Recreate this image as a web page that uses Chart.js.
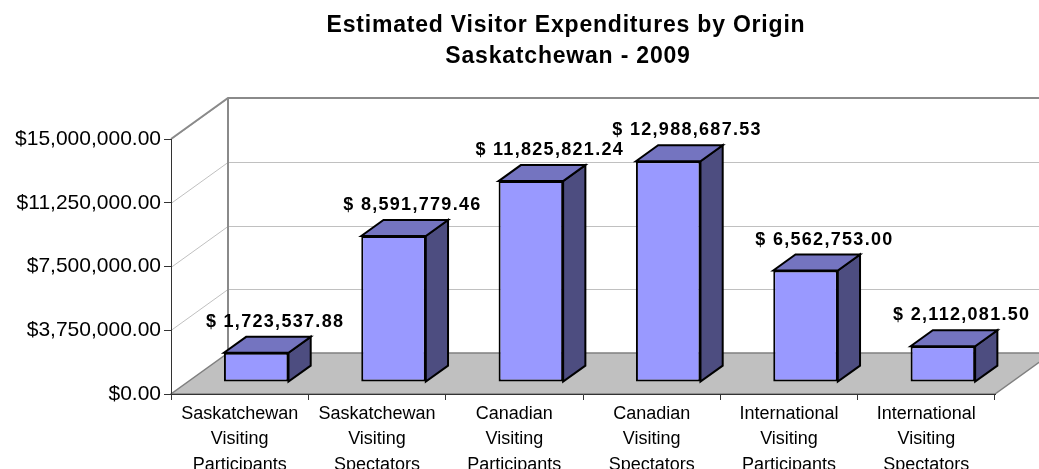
<!DOCTYPE html>
<html lang="en">
<head>
    <meta charset="UTF-8">
    <title>Estimated Visitor Expenditures by Origin</title>
    <script src="https://cdn.jsdelivr.net/npm/chart.js"></script>
    <style>
        body { margin: 0; background: #fff; }
    </style>
</head>
<body>
    <canvas id="gastosChart" width="1039" height="469"></canvas>

    <script>
        const titleLines = ['Estimated Visitor Expenditures by Origin', 'Saskatchewan - 2009'];
        const categories = [
            ['Saskatchewan', 'Visiting', 'Participants'],
            ['Saskatchewan', 'Visiting', 'Spectators'],
            ['Canadian', 'Visiting', 'Participants'],
            ['Canadian', 'Visiting', 'Spectators'],
            ['International', 'Visiting', 'Participants'],
            ['International', 'Visiting', 'Spectators']
        ];
        const expenditures = [1723537.88, 8591779.46, 11825821.24, 12988687.53, 6562753.00, 2112081.50];
        const yTicks = [0, 3750000, 7500000, 11250000, 15000000];

        const FONT = "'Liberation Sans', Arial, sans-serif";
        Chart.defaults.font.family = FONT;

        // depth of the fake 3D box (like Excel 2003 3D columns)
        const wall = { dx: 57, dy: -41 };
        const barFront = 0.29;   // where the front face of the bars sits in the depth
        const barDepth = 0.39;   // how deep each column is

        function money(v) {
            return v.toFixed(2).replace(/\B(?=(\d{3})+(?!\d))/g, ',');
        }

        const excel3d = {
            id: 'excel3d',
            beforeDraw(chart) {
                const { ctx, chartArea: a, scales: { y } } = chart;
                ctx.save();
                // gridlines on side wall and back wall
                ctx.strokeStyle = '#c0c0c0';
                ctx.lineWidth = 1;
                yTicks.forEach(v => {
                    const py = Math.round(y.getPixelForValue(v)) + 0.5;
                    ctx.beginPath();
                    ctx.moveTo(a.left, py);
                    ctx.lineTo(a.left + wall.dx, py + wall.dy);
                    ctx.lineTo(a.right + wall.dx, py + wall.dy);
                    ctx.stroke();
                });
                // floor
                ctx.beginPath();
                ctx.moveTo(a.left, a.bottom);
                ctx.lineTo(a.right, a.bottom);
                ctx.lineTo(a.right + wall.dx, a.bottom + wall.dy);
                ctx.lineTo(a.left + wall.dx, a.bottom + wall.dy);
                ctx.closePath();
                ctx.fillStyle = '#c0c0c0';
                ctx.fill();
                ctx.strokeStyle = '#808080';
                ctx.lineWidth = 1.5;
                ctx.stroke();
                // wall outline
                ctx.beginPath();
                ctx.moveTo(a.left, a.top);
                ctx.lineTo(a.left + wall.dx, a.top + wall.dy);
                ctx.lineTo(a.right + wall.dx, a.top + wall.dy);
                ctx.moveTo(a.left + wall.dx, a.top + wall.dy);
                ctx.lineTo(a.left + wall.dx, a.bottom + wall.dy);
                ctx.strokeStyle = '#8a8a8a';
                ctx.lineWidth = 2;
                ctx.stroke();
                ctx.restore();
            },
            beforeDatasetsDraw(chart) {
                chart.ctx.save();
                chart.ctx.translate(wall.dx * barFront, wall.dy * barFront);
            },
            afterDatasetsDraw(chart) {
                const ctx = chart.ctx;
                ctx.restore();
                const ox = wall.dx * barFront, oy = wall.dy * barFront;
                const bx = wall.dx * barDepth, by = wall.dy * barDepth;
                const meta = chart.getDatasetMeta(0);
                ctx.save();
                ctx.lineWidth = 2;
                ctx.lineJoin = 'miter';
                ctx.strokeStyle = '#000';
                meta.data.forEach((bar, i) => {
                    const p = bar.getProps(['x', 'y', 'base', 'width'], true);
                    const x1 = p.x - p.width / 2 + ox, x2 = p.x + p.width / 2 + ox;
                    const top = p.y + oy, bottom = p.base + oy;
                    // side face
                    ctx.beginPath();
                    ctx.moveTo(x2, top);
                    ctx.lineTo(x2 + bx, top + by);
                    ctx.lineTo(x2 + bx, bottom + by);
                    ctx.lineTo(x2, bottom);
                    ctx.closePath();
                    ctx.fillStyle = '#4d4d80';
                    ctx.fill();
                    ctx.stroke();
                    // top face
                    ctx.beginPath();
                    ctx.moveTo(x1, top);
                    ctx.lineTo(x1 + bx, top + by);
                    ctx.lineTo(x2 + bx, top + by);
                    ctx.lineTo(x2, top);
                    ctx.closePath();
                    ctx.fillStyle = '#7474c0';
                    ctx.fill();
                    ctx.stroke();
                    // value label
                    ctx.fillStyle = '#000';
                    ctx.font = 'bold 18px ' + FONT;
                    ctx.letterSpacing = '1.3px';
                    ctx.textAlign = 'center';
                    ctx.textBaseline = 'middle';
                    ctx.fillText('$ ' + money(expenditures[i]), p.x + ox + bx * 0.85, top + by - 15);
                    ctx.letterSpacing = '0px';
                });
                ctx.restore();
            },
            afterDraw(chart) {
                const ctx = chart.ctx;
                ctx.save();
                ctx.fillStyle = '#000';
                ctx.font = 'bold 23px ' + FONT;
                ctx.letterSpacing = '0.8px';
                ctx.textAlign = 'center';
                ctx.textBaseline = 'middle';
                ctx.fillText(titleLines[0], 566, 26);
                ctx.fillText(titleLines[1], 568, 57);
                ctx.restore();
            }
        };

        new Chart(document.getElementById('gastosChart'), {
            type: 'bar',
            data: {
                labels: categories,
                datasets: [{
                    label: 'Expenditures',
                    data: expenditures,
                    backgroundColor: '#9999ff',
                    borderColor: '#000',
                    borderWidth: 2,
                    borderSkipped: false,
                    categoryPercentage: 1,
                    barPercentage: 0.47,
                    clip: false
                }]
            },
            options: {
                responsive: false,
                animation: false,
                layout: { padding: { top: 139, right: 44, bottom: 0, left: 0 } },
                plugins: {
                    legend: { display: false },
                    title: { display: false },
                    tooltip: { enabled: false }
                },
                scales: {
                    x: {
                        grid: { offset: true, drawOnChartArea: false, tickLength: 6, color: '#333' },
                        border: { color: '#333' },
                        ticks: { color: '#000', font: { size: 18, lineHeight: 1.39 }, padding: 2, maxRotation: 0, autoSkip: false },
                        afterFit: s => { s.height = 75; }
                    },
                    y: {
                        min: 0,
                        max: 15000000,
                        afterBuildTicks: s => { s.ticks = yTicks.map(v => ({ value: v })); },
                        ticks: { color: '#000', font: { size: 21 }, padding: 3, callback: v => '$' + money(v) },
                        grid: { drawOnChartArea: false, tickLength: 7, color: '#333' },
                        border: { color: '#333' },
                        afterFit: s => { s.width = 171; }
                    }
                }
            },
            plugins: [excel3d]
        });
    </script>
</body>
</html>
